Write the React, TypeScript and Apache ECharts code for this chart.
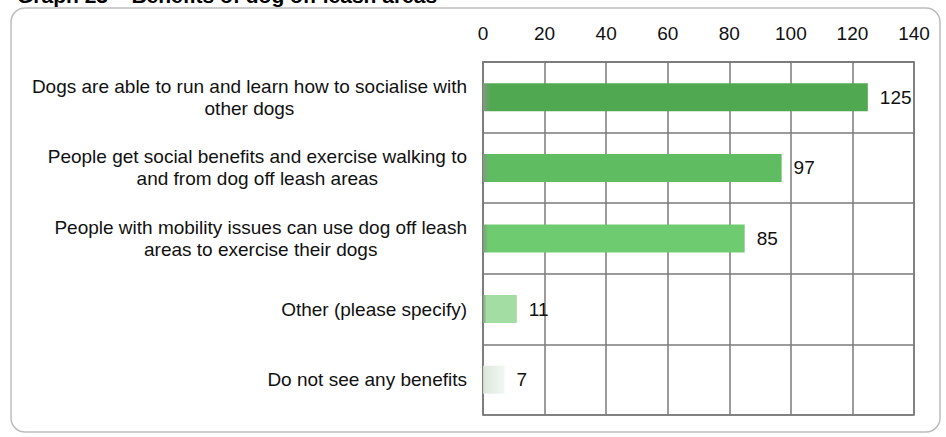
import React, { useEffect, useRef } from "react";
import * as echarts from "echarts";

const categories: string[] = [
  "Dogs are able to run and learn how to socialise with\nother dogs",
  "People get social benefits and exercise walking to\nand from dog off leash areas",
  "People with mobility issues can use dog off leash\nareas to exercise their dogs",
  "Other (please specify)",
  "Do not see any benefits",
];
const values: number[] = [125, 97, 85, 11, 7];
const barColors: string[] = ["#50a850", "#60bc60", "#6fcb6f", "#a3dda3", "#dfeadf"];
const tickMin = 0;
const tickMax = 140;
const tickStep = 20;

export default function App() {
  const ref = useRef<HTMLDivElement>(null);
  useEffect(() => {
    if (!ref.current) return;
    const chart = echarts.init(ref.current, undefined, { renderer: "svg" });
    const font = "Liberation Sans, Arial, sans-serif";
    chart.setOption({
      animation: false,
      backgroundColor: "#ffffff",
      title: {
        text: "Graph 23 – Benefits of dog off leash areas",
        left: 12,
        top: -20,
        textStyle: { fontFamily: font, fontSize: 21, fontWeight: "bold", color: "#000" },
      },
      graphic: [
        {
          type: "rect",
          shape: { x: 11, y: 8, width: 929, height: 424, r: 14 },
          style: { fill: "none", stroke: "#bdbdbd", lineWidth: 1.5 },
          silent: true,
          z: -1,
        },
      ],
      grid: {
        left: 483,
        right: 32,
        top: 62,
        bottom: 22,
        show: true,
        borderColor: "#7a7a7a",
        borderWidth: 1.5,
      },
      xAxis: {
        type: "value",
        position: "top",
        min: tickMin,
        max: tickMax,
        interval: tickStep,
        axisLine: { show: true, lineStyle: { color: "#7a7a7a", width: 1.5 } },
        axisTick: { show: false },
        axisLabel: { margin: 19, fontFamily: font, fontSize: 19, color: "#111" },
        splitLine: { show: true, lineStyle: { color: "#7a7a7a", width: 1.5 } },
      },
      yAxis: {
        type: "category",
        inverse: true,
        data: categories,
        axisLine: { show: true, lineStyle: { color: "#7a7a7a", width: 1.5 } },
        axisTick: { show: false },
        splitLine: { show: true, lineStyle: { color: "#7a7a7a", width: 1.5 } },
        axisLabel: {
          margin: 16,
          fontFamily: font,
          fontSize: 19,
          color: "#111",
          lineHeight: 22,
          formatter: (v: string) =>
            v
              .split("\n")
              .map((l) => `{c|${l}}`)
              .join("\n"),
          rich: {
            c: { align: "center", fontFamily: font, fontSize: 19, color: "#111", lineHeight: 22 },
          },
        },
      },
      series: [
        {
          type: "bar",
          barWidth: 28,
          data: values.map((v, i) => ({
            value: v,
            itemStyle: {
              color: new echarts.graphic.LinearGradient(0, 0, 1, 0, [
                { offset: 0, color: i === 4 ? "#c8d6c8" : "#7f9a7f" },
                { offset: i >= 3 ? 0.1 : 0.02, color: barColors[i] },
                { offset: 1, color: i === 4 ? "#f2f6f2" : barColors[i] },
              ]),
            },
          })),
          label: {
            show: true,
            position: "right",
            distance: 12,
            fontFamily: font,
            fontSize: 19,
            color: "#111",
          },
        },
      ],
    });
    return () => chart.dispose();
  }, []);
  return (
    <div
      ref={ref}
      style={{ position: "fixed", left: 0, top: 0, width: 946, height: 437 }}
    />
  );
}
